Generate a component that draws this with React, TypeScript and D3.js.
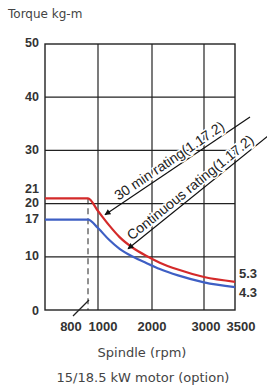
import { useEffect, useRef } from 'react';
import * as d3 from 'd3';

// spindle speed (rpm) and torque (kg-m)
const rpm = [0, 800, 1000, 1200, 1400, 1650, 1900, 2150, 2500, 3000, 3500];
const torque30min = [21, 21, 18.6, 16.0, 13.7, 11.65, 10.15, 8.9, 7.6, 6.2, 5.3];
const torqueContinuous = [17, 17, 15.4, 13.25, 11.5, 10.0, 8.8, 7.7, 6.5, 5.2, 4.3];

const rpmTicks = ['800', '1000', '2000', '3000', '3500'];
const rpmGrid = [1000, 2000, 3000];
const torqueTicks = ['0', '10', '17', '20', '21', '30', '40', '50'];
const torqueGrid = [10, 20, 30, 40];
const endLabels = ['5.3', '4.3'];

const W = 267;
const H = 392;

const App = () => {
  const svgRef = useRef<SVGSVGElement>(null);

  useEffect(() => {
    if (!svgRef.current) return;
    const svg = d3.select(svgRef.current);
    svg.selectAll('*').remove();

    // the rpm axis of the original is not linear, so map it piece by piece
    const x = d3.scaleLinear()
      .domain([0, 800, 1000, 2000, 3000, 3500])
      .range([45, 88, 98, 152, 204, 235]);
    const y = d3.scaleLinear().domain([0, 50]).range([310, 44]);

    const tickFont = 'Liberation Sans, Arial, sans-serif';
    const plainFont = 'DejaVu Sans, sans-serif';

    // arrow head
    svg.append('defs').append('marker')
      .attr('id', 'arrow')
      .attr('viewBox', '0 0 10 10')
      .attr('refX', 9)
      .attr('refY', 5)
      .attr('markerWidth', 7)
      .attr('markerHeight', 6)
      .attr('markerUnits', 'userSpaceOnUse')
      .attr('orient', 'auto')
      .append('path')
      .attr('d', 'M0,0 L10,5 L0,10 Z')
      .attr('fill', '#111');

    const g = svg.append('g');

    // grid
    g.selectAll('.hgrid')
      .data(torqueGrid)
      .enter()
      .append('line')
      .attr('x1', x(0))
      .attr('x2', x(3500))
      .attr('y1', d => y(d))
      .attr('y2', d => y(d))
      .attr('stroke', '#222')
      .attr('stroke-width', 1.2);

    g.selectAll('.vgrid')
      .data(rpmGrid)
      .enter()
      .append('line')
      .attr('x1', d => x(d))
      .attr('x2', d => x(d))
      .attr('y1', y(0))
      .attr('y2', y(50))
      .attr('stroke', '#222')
      .attr('stroke-width', 1.2);

    g.append('rect')
      .attr('x', x(0))
      .attr('y', y(50))
      .attr('width', x(3500) - x(0))
      .attr('height', y(0) - y(50))
      .attr('fill', 'none')
      .attr('stroke', '#222')
      .attr('stroke-width', 1.4);

    // dashed base speed line
    g.append('line')
      .attr('x1', x(800))
      .attr('x2', x(800))
      .attr('y1', y(torque30min[1]))
      .attr('y2', y(0))
      .attr('stroke', '#222')
      .attr('stroke-width', 1)
      .attr('stroke-dasharray', '6,4');

    // leader from the 800 label
    g.append('line')
      .attr('x1', x(800) - 15)
      .attr('y1', y(0) + 6)
      .attr('x2', x(800) + 1)
      .attr('y2', y(0) - 10)
      .attr('stroke', '#222')
      .attr('stroke-width', 1.2);

    // curves
    const series = [
      { values: torqueContinuous, color: '#3e5fc4' },
      { values: torque30min, color: '#d42a2a' }
    ];
    const line = d3.line<number>()
      .x((_, i) => x(rpm[i]))
      .y(d => y(d))
      .curve(d3.curveMonotoneX);

    g.selectAll('.curve')
      .data(series)
      .enter()
      .append('path')
      .attr('d', d => line(d.values))
      .attr('fill', 'none')
      .attr('stroke', d => d.color)
      .attr('stroke-width', 2.2);

    // annotations: arrow from upper right down to the curve
    const notes = [
      { text: '30 min rating(1.17.2)', tip: [1130, 17.9], tail: [3742, 36.3], along: 19, up: 4 },
      { text: 'Continuous rating(1.17.2)', tip: [1556, 11.5], tail: [4032, 32.7], along: 8, up: 4 }
    ];
    notes.forEach(n => {
      const x1 = x(n.tip[0]);
      const y1 = y(n.tip[1]);
      const x2 = x(n.tail[0]);
      const y2 = y(n.tail[1]);
      const angle = Math.atan2(y2 - y1, x2 - x1);
      g.append('line')
        .attr('x1', x2)
        .attr('y1', y2)
        .attr('x2', x1)
        .attr('y2', y1)
        .attr('stroke', '#111')
        .attr('stroke-width', 1.2)
        .attr('marker-end', 'url(#arrow)');
      g.append('text')
        .attr('transform', `translate(${x1},${y1}) rotate(${(angle * 180) / Math.PI})`)
        .attr('x', n.along)
        .attr('y', -n.up)
        .attr('font-family', tickFont)
        .attr('font-size', 14)
        .attr('fill', '#222')
        .attr('stroke', '#fff')
        .attr('stroke-width', 3)
        .attr('paint-order', 'stroke')
        .text(n.text);
    });

    // y tick labels (21 is lifted off 20)
    g.selectAll('.ytick')
      .data(torqueTicks)
      .enter()
      .append('text')
      .attr('x', 39)
      .attr('y', d => y(+d) + (d === '21' ? -10 : d === '0' ? 1 : -1))
      .attr('dy', '0.35em')
      .attr('text-anchor', 'end')
      .attr('font-family', tickFont)
      .attr('font-weight', 'bold')
      .attr('font-size', 12.5)
      .attr('fill', '#333')
      .text(d => d);

    // x tick labels
    const xNudge: Record<string, number> = { '800': -17, '1000': 5, '2000': 0, '3000': 2, '3500': 6 };
    g.selectAll('.xtick')
      .data(rpmTicks)
      .enter()
      .append('text')
      .attr('x', d => x(+d) + xNudge[d])
      .attr('y', y(0) + 21)
      .attr('text-anchor', 'middle')
      .attr('font-family', tickFont)
      .attr('font-weight', 'bold')
      .attr('font-size', 13)
      .attr('fill', '#333')
      .text(d => d);

    // end values at right
    g.selectAll('.endlabel')
      .data(endLabels)
      .enter()
      .append('text')
      .attr('x', x(3500) + 4)
      .attr('y', (d, i) => y(+d) + (i === 0 ? -8 : 5))
      .attr('dy', '0.35em')
      .attr('font-family', tickFont)
      .attr('font-weight', 'bold')
      .attr('font-size', 13)
      .attr('fill', '#333')
      .text(d => d);

    // titles
    svg.append('text')
      .attr('x', 8)
      .attr('y', 18)
      .attr('font-family', plainFont)
      .attr('font-size', 12)
      .attr('fill', '#444')
      .text('Torque kg-m');

    svg.append('text')
      .attr('x', 142)
      .attr('y', 357)
      .attr('text-anchor', 'middle')
      .attr('font-family', plainFont)
      .attr('font-size', 13)
      .attr('fill', '#444')
      .text('Spindle (rpm)');

    svg.append('text')
      .attr('x', 143)
      .attr('y', 382)
      .attr('text-anchor', 'middle')
      .attr('font-family', plainFont)
      .attr('font-size', 13)
      .attr('fill', '#444')
      .text('15/18.5 kW motor (option)');
  }, []);

  return (
    <svg
      ref={svgRef}
      width={W}
      height={H}
      style={{ position: 'absolute', left: 0, top: 0, background: '#fff' }}
    />
  );
};

export default App;
